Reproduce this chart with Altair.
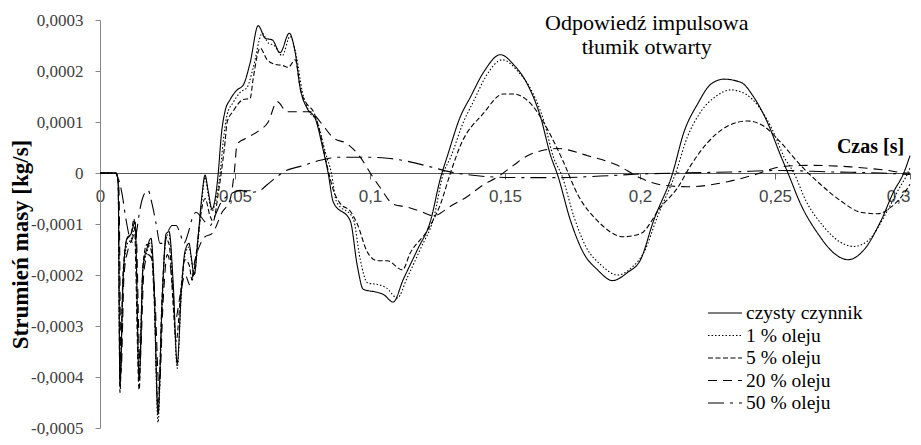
import altair as alt
import pandas as pd

# ---------------- data (values in units of 0,0001 kg/s, time in s) ----------------
SERIES = ["czysty czynnik", "1 % oleju", "5 % oleju", "20 % oleju", "50 % oleju"]
UNIT = 1e-4

czysty_t = [0, .0059, .0067, .0074, .0085, .0100, .0115, .0130, .0145, .0159, .0174, .0189, .0200, .0215,
            .0230, .0245, .0256, .0271, .0286, .0301, .0315, .0330, .0337, .0349, .0363, .0378, .0389, .0400,
            .0415, .0426, .0438, .0449, .0463, .0482, .0508, .0530, .0556, .0586, .0612, .0638, .0667, .0701,
            .0723, .0742, .0768, .0797, .0827, .0845, .0864, .0927, .0953, .0975, .1027, .1049, .1086, .1123,
            .1175, .1224, .1261, .1287, .1335, .1372, .1420, .1483, .1531, .1583, .1631, .1669, .1695, .1743,
            .1791, .1843, .1898, .1954, .2002, .2050, .2121, .2162, .2214, .2262, .2310, .2373, .2421, .2473,
            .2521, .2551, .2595, .2659, .2718, .2770, .2829, .2892, .2940, .2977, .3000]
czysty_v = [0, 0, -0.13, -4.16, -2.15, -1.28, -1.19, -0.96, -4.06, -1.86, -1.48, -1.28, -2.15, -4.73,
            -2.53, -1.19, -1.15, -2.15, -3.74, -2.34, -1.53, -1.38, -1.61, -1.99, -1.28, -0.42, -0.04, -0.33,
            -0.71, -0.52, 0, 0.73, 1.21, 1.44, 1.63, 1.72, 2.16, 2.89, 2.64, 2.61, 2.36, 2.74,
            2.36, 1.65, 1.26, 1.07, 0.44, 0, -0.57, -0.94, -1.82, -2.28, -2.34, -2.38, -2.53, -2.09,
            -1.51, -0.94, -0.10, 0.34, 1.11, 1.49, 1.97, 2.32, 2.13, 1.74, 1.11, 0.34, -0.04, -0.94,
            -1.57, -1.90, -2.11, -1.95, -1.70, -0.94, 0, 0.79, 1.36, 1.74, 1.84, 1.78, 1.49, 0.98,
            0.34, -0.04, -0.61, -1.19, -1.57, -1.70, -1.51, -0.94, -0.36, 0, 0.34]

olej1_t = [0, .0059, .0067, .0074, .0085, .0100, .0115, .0130, .0145, .0159, .0174, .0189, .0200, .0215,
           .0230, .0245, .0256, .0271, .0286, .0301, .0315, .0330, .0337, .0349, .0363, .0378, .0389, .0400,
           .0415, .0426, .0445, .0456, .0471, .0493, .0519, .0545, .0567, .0601, .0623, .0645, .0675, .0704,
           .0727, .0749, .0775, .0805, .0835, .0857, .0875, .0938, .0964, .0990, .1038, .1060, .1101, .1138,
           .1190, .1235, .1272, .1298, .1346, .1383, .1430, .1490, .1550, .1600, .1645, .1680, .1710, .1755,
           .1800, .1855, .1917, .1970, .2015, .2065, .2132, .2175, .2225, .2280, .2336, .2390, .2440, .2490,
           .2535, .2570, .2615, .2680, .2740, .2792, .2850, .2910, .2960, .2992, .3000]
olej1_v = [0, 0, -0.12, -4.0, -2.2, -1.4, -1.3, -1.05, -3.9, -1.9, -1.55, -1.35, -2.3, -4.89,
           -2.6, -1.25, -1.2, -2.3, -3.83, -2.4, -1.6, -1.45, -1.65, -2.0, -1.35, -0.5, -0.08, -0.4,
           -0.75, -0.6, 0, 0.6, 1.15, 1.38, 1.58, 1.68, 2.05, 2.74, 2.55, 2.5, 2.3, 2.68,
           2.3, 1.6, 1.2, 1.0, 0.4, 0, -0.55, -0.9, -1.7, -2.15, -2.2, -2.25, -2.45, -2.05,
           -1.45, -0.9, 0, 0.3, 1.0, 1.4, 1.9, 2.22, 1.98, 1.6, 1.0, 0.3, -0.04, -0.85,
           -1.45, -1.8, -2.0, -1.85, -1.55, -0.85, 0, 0.7, 1.2, 1.5, 1.63, 1.55, 1.3, 0.85,
           0.3, 0, -0.55, -1.05, -1.35, -1.44, -1.3, -0.8, -0.3, 0, 0.1]

olej5_t = [0, .0059, .0067, .0074, .0085, .0100, .0115, .0126, .0145, .0159, .0174, .0189, .0200, .0215,
           .0230, .0245, .0256, .0271, .0282, .0301, .0315, .0330, .0341, .0356, .0371, .0389, .0408, .0419,
           .0438, .0449, .0463, .0471, .0493, .0530, .0556, .0567, .0593, .0619, .0649, .0675, .0697, .0723,
           .0742, .0768, .0790, .0816, .0842, .0864, .0890, .0927, .0953, .0990, .1027, .1064, .1120, .1149,
           .1212, .1261, .1298, .1335, .1420, .1494, .1531, .1605, .1657, .1717, .1769, .1843, .1939, .2002,
           .2076, .2139, .2188, .2251, .2325, .2399, .2458, .2521, .2595, .2670, .2744, .2818, .2881, .2929,
           .2992, .3000]
olej5_v = [0, 0, -0.2, -4.31, -2.0, -1.3, -1.2, -0.9, -4.25, -1.8, -1.4, -1.5, -2.4, -4.6,
           -2.4, -1.3, -1.4, -2.6, -3.3, -2.2, -1.7, -1.8, -2.1, -1.6, -0.9, -0.5, -0.85, -0.95,
           -0.4, 0, 0.6, 1.0, 1.21, 1.44, 1.46, 1.84, 2.45, 2.22, 2.13, 2.11, 2.07, 2.22,
           1.65, 1.34, 1.21, 0.77, 0.12, -0.33, -0.6, -0.75, -1.0, -1.55, -1.72, -1.72, -1.90, -1.57,
           -1.13, -0.61, 0, 0.54, 1.17, 1.55, 1.55, 1.30, 0.86, 0.21, -0.42, -0.94, -1.25, -1.19,
           -0.67, -0.29, 0.15, 0.60, 0.92, 1.02, 0.92, 0.60, 0.15, -0.23, -0.55, -0.77, -0.80, -0.67,
           -0.29, -0.22]

olej20_t = [0, .0059, .0070, .0078, .0089, .0104, .0119, .0133, .0148, .0163, .0178, .0193, .0204, .0219,
            .0234, .0249, .0260, .0271, .0278, .0297, .0315, .0334, .0352, .0371, .0389, .0415, .0452, .0482,
            .0497, .0508, .0545, .0586, .0623, .0656, .0693, .0742, .0779, .0816, .0864, .0916, .0964, .1001,
            .1038, .1086, .1138, .1187, .1235, .1298, .1361, .1420, .1472, .1531, .1583, .1645, .1695, .1806,
            .1917, .2002, .2076, .2176, .2325, .2421, .2521, .2621, .2781, .2903, .2992, .3000]
olej20_v = [0, 0, -0.3, -3.9, -2.0, -1.5, -1.3, -1.1, -3.7, -1.9, -1.6, -1.7, -2.5, -4.25,
            -2.5, -1.6, -1.8, -2.4, -2.9, -2.4, -2.0, -2.2, -1.7, -1.4, -1.25, -1.19, -0.77, -0.52,
            0, 0.57, 0.69, 0.82, 1.0, 1.40, 1.2, 1.2, 1.2, 1.0, 0.69, 0.57, 0.31, 0,
            -0.29, -0.61, -0.67, -0.75, -0.84, -0.65, -0.46, -0.23, -0.08, 0.15, 0.34, 0.45, 0.48, 0.34,
            0.15, -0.10, -0.23, -0.27, -0.17, -0.04, 0.12, 0.15, 0.12, 0.06, 0, 0]

olej50_t = [0, .0052, .0067, .0082, .0096, .0111, .0126, .0137, .0148, .0163, .0178, .0193, .0208, .0222,
            .0237, .0252, .0267, .0282, .0297, .0311, .0326, .0341, .0356, .0371, .0389, .0408, .0426, .0445,
            .0482, .0519, .0556, .0593, .0619, .0649, .0686, .0742, .0816, .0890, .0990, .1064, .1138, .1224,
            .1298, .1372, .1465, .1557, .1706, .1854, .2002, .2150, .2336, .2521, .2707, .2892, .3000]
olej50_v = [0, 0, -0.1, -0.42, -0.9, -1.28, -1.38, -1.10, -0.71, -0.42, -0.34, -0.61, -1.0, -1.38,
            -1.38, -1.15, -1.03, -1.03, -1.19, -1.38, -1.19, -0.90, -0.77, -0.84, -0.96, -1.03, -0.84, -0.61,
            -0.42, -0.34, -0.38, -0.34, -0.23, -0.10, 0.04, 0.13, 0.25, 0.31, 0.31, 0.29, 0.23, 0.12,
            0.02, -0.04, -0.08, -0.09, -0.09, -0.06, -0.02, 0, 0.02, 0.05, 0.02, 0, -0.03]

X_TICKS = [0, 0.05, 0.1, 0.15, 0.2, 0.25, 0.3]
Y_TICKS = [-0.0005, -0.0004, -0.0003, -0.0002, -0.0001, 0, 0.0001, 0.0002, 0.0003]

TITLE_LINES = ["Odpowiedź impulsowa", "tłumik otwarty"]
TITLE_T = [0.2025, 0.2025]
TITLE_V = [2.80e-4, 2.33e-4]

# ---------------- styles ----------------
SERIF = "Liberation Serif"
SANS = "Liberation Sans"
DASHES = [[1, 0], [1.5, 2], [5, 2.5], [9, 6], [16, 6, 3, 6]]
WIDTHS = [1.1, 1.1, 2.1, 2.3, 3.3]

frames = []
for name, ts, vs in zip(SERIES,
                        [czysty_t, olej1_t, olej5_t, olej20_t, olej50_t],
                        [czysty_v, olej1_v, olej5_v, olej20_v, olej50_v]):
    assert len(ts) == len(vs), name
    frames.append(pd.DataFrame({"t": ts, "v": [x * UNIT for x in vs], "seria": name}))
df = pd.concat(frames, ignore_index=True)

title_df = pd.DataFrame({"t": TITLE_T, "v": TITLE_V, "tekst": TITLE_LINES})

W, H = 810, 408
zero_from_bottom = H * 0.0005 / 0.0008

x_enc = alt.X(
    "t:Q",
    scale=alt.Scale(domain=[0, 0.3], nice=False, zero=False),
    axis=alt.Axis(
        values=X_TICKS,
        offset=-zero_from_bottom,
        labelExpr="replace(format(datum.value, '.2~f'), '.', ',')",
        labelFont=SANS, labelFontSize=17, labelColor="#454545",
        labelAlign={"condition": {"test": "datum.value >= 0.299", "value": "right"}, "value": "center"},
        labelPadding=9, labelFlush=False, labelOverlap=False,
        tickSize=6, tickColor="#666666", domainColor="#555555", domainWidth=1,
        grid=False,
        title="Czas [s]", titleFont=SERIF, titleFontSize=20,
        titleFontWeight="bold", titleColor="black",
        titleX=770, titleY=-27, titleAlign="center", titleBaseline="middle",
    ),
)
y_enc = alt.Y(
    "v:Q",
    scale=alt.Scale(domain=[-0.0005, 0.0003], nice=False, zero=False),
    axis=alt.Axis(
        values=Y_TICKS,
        labelExpr="replace(replace(format(datum.value, '.4~f'), '.', ','), '\u2212', '-')",
        labelFont=SERIF, labelFontSize=17, labelColor="#404040",
        labelPadding=12, labelOverlap=False, labelFlush=False,
        tickSize=5, tickColor="#888888", domainColor="#888888",
        grid=False,
        title="Strumień masy [kg/s]", titleFont=SERIF, titleFontSize=23,
        titleFontWeight="bold", titleColor="black",
        titleX=-80, titleY=224, titleAlign="center", titleBaseline="middle",
    ),
)

legend = alt.Legend(
    title=None, orient="none", legendX=607, legendY=283,
    symbolType="stroke", symbolSize=1156, symbolStrokeColor="black",
    clipHeight=20, rowPadding=2.5, labelOffset=3, padding=0,
    labelFont=SERIF, labelFontSize=19.5, labelColor="black",
)

lines = alt.Chart(df).mark_line(color="black", strokeCap="butt", interpolate="monotone").encode(
    x=x_enc,
    y=y_enc,
    detail="seria:N",
    strokeDash=alt.StrokeDash("seria:N", scale=alt.Scale(domain=SERIES, range=DASHES), legend=legend),
    strokeWidth=alt.StrokeWidth("seria:N", scale=alt.Scale(domain=SERIES, range=WIDTHS), legend=legend),
)

title_text = alt.Chart(title_df).mark_text(
    font=SERIF, fontSize=22, align="center", baseline="alphabetic", color="black"
).encode(x=x_enc, y=y_enc, text="tekst:N")

chart = alt.layer(lines, title_text).properties(
    width=W, height=H,
    padding={"left": 92, "top": 12, "right": 3, "bottom": 9},
    autosize=alt.AutoSizeParams(type="none"),
).configure_view(strokeWidth=0)

chart.save("out.html", embed_options={"renderer": "svg", "actions": False})
